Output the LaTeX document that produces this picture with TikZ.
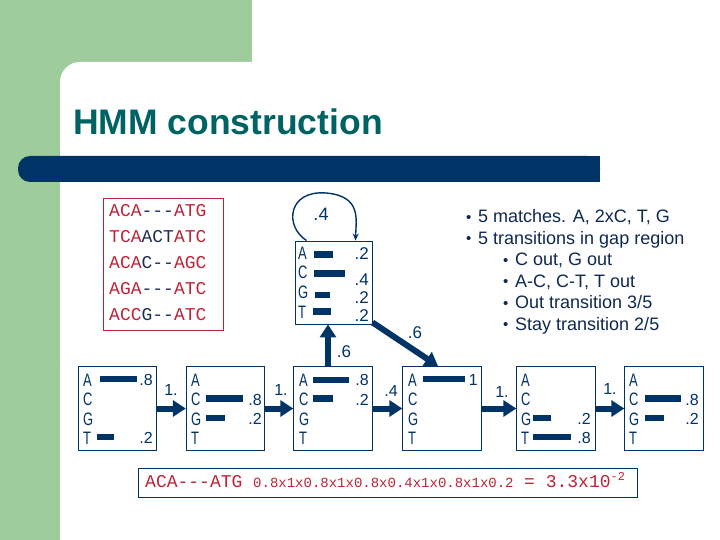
\documentclass[tikz,border=0pt]{standalone}
\usepackage{fontspec}
\setmainfont{Liberation Sans}
\newfontfamily\monofont{Liberation Mono}
\newfontfamily\narrowfont[FakeStretch=0.72]{Liberation Sans}
\usetikzlibrary{arrows.meta,calc}
\definecolor{bggreen}{RGB}{158,204,155}
\definecolor{navy}{RGB}{0,51,102}
\definecolor{titleteal}{RGB}{0,99,99}
\definecolor{alnred}{RGB}{190,35,55}
\definecolor{alnnavy}{RGB}{30,45,80}
\definecolor{bulletnavy}{RGB}{15,40,80}
\newcommand\fs[1]{\fontsize{#1}{#1}\selectfont}
\newcommand\Rd[1]{\textcolor{alnred}{#1}}
\newcommand\Nv[1]{\textcolor{alnnavy}{#1}}
\newcommand\bu{\makebox[12pt][l]{\fs{15}\raisebox{0.5pt}{•}}}
\begin{document}
\begin{tikzpicture}[x=1pt,y=-1pt,
  statebox/.style={draw=navy,line width=0.9pt,minimum width=78.5pt,minimum height=84pt,inner sep=0pt},
  lett/.style={font=\narrowfont\fs{18},text=navy,anchor=west,inner sep=0pt},
  prob/.style={font=\fs{16},text=navy,anchor=east,inner sep=0pt},
  bar/.style={line width=6.5pt,navy},
  bigarrow/.style={line width=6pt,navy,-{Triangle[length=13pt,width=16pt]}},
  alab/.style={font=\fs{16},text=navy,inner sep=0pt},
  alnline/.style={font=\monofont\fs{18},anchor=base west,inner sep=0pt},
  bul/.style={font=\fs{18},text=bulletnavy,anchor=base west,inner sep=0pt}
]
\useasboundingbox (0,0) rectangle (720,540);
% background
\begin{scope}
\clip (0,0) rectangle (720,540);
\fill[white] (0,0) rectangle (720,540);
\fill[bggreen] (0,0) rectangle (252,540);
\fill[white, rounded corners=20pt] (60,62) rectangle (800,620);
\fill[navy, rounded corners=12pt] (18,156) rectangle (600,182);
\fill[navy] (100,156) rectangle (600,182);
\end{scope}
% title
\node[anchor=base west, font=\bfseries\fs{35.5}, text=titleteal, inner sep=0pt] (title) at (73,135) {HMM construction};
% alignment box
\node[draw=alnred, line width=0.9pt, minimum width=120pt, minimum height=132pt, inner sep=0pt] (aln) at (163,264) {};
\node[alnline] (l1) at (109,217) {\Rd{ACA}\Nv{---}\Rd{ATG}};
\node[alnline] (l2) at (109,243) {\Rd{TCA}\Nv{ACT}\Rd{ATC}};
\node[alnline] (l3) at (109,268) {\Rd{ACA}\Nv{C--}\Rd{AGC}};
\node[alnline] (l4) at (109,294) {\Rd{AGA}\Nv{---}\Rd{ATC}};
\node[alnline] (l5) at (109,320) {\Rd{ACC}\Nv{G--}\Rd{ATC}};
% insert state
\node[statebox, minimum width=77pt, minimum height=83pt] (ins) at (333.5,282.5) {};
\node[lett] (insA) at (298,253) {A};
\node[lett] (insC) at (298,272) {C};
\node[lett] (insG) at (298,292) {G};
\node[lett] (insT) at (298,312) {T};
\draw[bar] (314,254.5) -- (333,254.5);
\draw[bar] (314,273.5) -- (345,273.5);
\draw[bar] (315,295) -- (330,295);
\draw[bar] (313,311.5) -- (331,311.5);
\node[prob, font=\fs{17}] (insp1) at (369,254) {.2};
\node[prob, font=\fs{17}] (insp2) at (369,280) {.4};
\node[prob, font=\fs{17}] (insp3) at (369,297.5) {.2};
\node[prob, font=\fs{17}] (insp4) at (369,315.5) {.2};
\draw[navy, line width=1.4pt, -{Stealth[length=7pt,width=6pt]}] ([xshift=-27pt]ins.north) .. controls (284,226) and (288,190) .. (326,193) .. controls (362,196) and (356,220) .. ([xshift=22pt]ins.north);
\node[alab, font=\fs{18}] (loopl) at (321,214) {.4};
% bullets
\node[bul] (t1) at (466,222.5) {\bu 5 matches. A, 2xC, T, G};
\node[bul] (t2) at (466,244) {\bu 5 transitions in gap region};
\node[bul] (t3) at (503,265.5) {\bu C out, G out};
\node[bul] (t4) at (503,287) {\bu A-C, C-T, T out};
\node[bul] (t5) at (503,308.5) {\bu Out transition 3/5};
\node[bul] (t6) at (503,330) {\bu Stay transition 2/5};
% match states
\node[statebox] (b1) at (117.5,408.5) {};
\node[statebox] (b2) at (225.5,408.5) {};
\node[statebox] (b3) at (333,408.5) {};
\node[statebox] (b4) at (442,408.5) {};
\node[statebox] (b5) at (556,408.5) {};
\node[statebox] (b6) at (664,408.5) {};
\foreach \b/\x in {b1/83,b2/191,b3/299,b4/408,b5/521,b6/629}{
  \node[lett] (\b A) at (\x,380) {A};
  \node[lett] (\b C) at (\x,399.5) {C};
  \node[lett] (\b G) at (\x,419) {G};
  \node[lett] (\b T) at (\x,438) {T};
}
% box1
\draw[bar] (100,379) -- (137,379);
\draw[bar] (97,437) -- (114,437);
\node[prob] (b1p1) at (153,380) {.8};
\node[prob] (b1p2) at (153,438) {.2};
% box2
\draw[bar] (206,398.5) -- (243,398.5);
\draw[bar] (206,418) -- (225,418);
\node[prob] (b2p1) at (262,399.5) {.8};
\node[prob] (b2p2) at (262,419) {.2};
% box3
\draw[bar] (313,380) -- (349,380);
\draw[bar] (313,398.5) -- (333,398.5);
\node[prob] (b3p1) at (369,380) {.8};
\node[prob] (b3p2) at (369,399.5) {.2};
% box4
\draw[bar] (423,379) -- (465,379);
\node[prob] (b4p1) at (478,380) {1};
% box5
\draw[bar] (533,418) -- (551,418);
\draw[bar] (533,437) -- (571,437);
\node[prob] (b5p1) at (591,419) {.2};
\node[prob] (b5p2) at (591,438) {.8};
% box6
\draw[bar] (645,398.5) -- (681,398.5);
\draw[bar] (645,418) -- (664,418);
\node[prob] (b6p1) at (699,399.5) {.8};
\node[prob] (b6p2) at (699,419) {.2};
% transitions
\draw[bigarrow] (b1) -- (b2);
\draw[bigarrow] (b2) -- (b3);
\draw[bigarrow] (b3) -- (b4);
\draw[bigarrow] (b4) -- (b5);
\draw[bigarrow] (b5) -- (b6);
\node[alab] (a1) at (171,390) {1.};
\node[alab] (a2) at (281,390) {1.};
\node[alab] (a3) at (391,391) {.4};
\node[alab] (a4) at (502,392) {1.};
\node[alab] (a5) at (610,389) {1.};
\draw[bigarrow] ([xshift=-5pt]b3.north) -- ([xshift=-5.5pt]ins.south);
\node[alab, font=\fs{17}] (a6) at (344,352) {.6};
\draw[bigarrow] ([shift={(0,-2)}]ins.south east) -- ([xshift=-4pt]b4.north);
\node[alab, font=\fs{17}] (a7) at (415,333) {.6};
% result
\node[draw=navy, line width=0.8pt, minimum width=499pt, minimum height=29pt, inner sep=0pt] (res) at (387.5,482.5) {};
\node[anchor=base west, inner sep=0pt, font=\monofont\fs{18}, text=alnred] (r1) at (145,487) {ACA---ATG};
\node[anchor=base west, inner sep=0pt, font=\monofont\fs{14}, text=alnred] (r2) at (253,487) {0.8x1x0.8x1x0.8x0.4x1x0.8x1x0.2};
\node[anchor=base west, inner sep=0pt, font=\monofont\fs{18}, text=alnred] (r3) at (524,487) {= 3.3x10\raisebox{7pt}{\fs{12}-2}};
\end{tikzpicture}
\end{document}
